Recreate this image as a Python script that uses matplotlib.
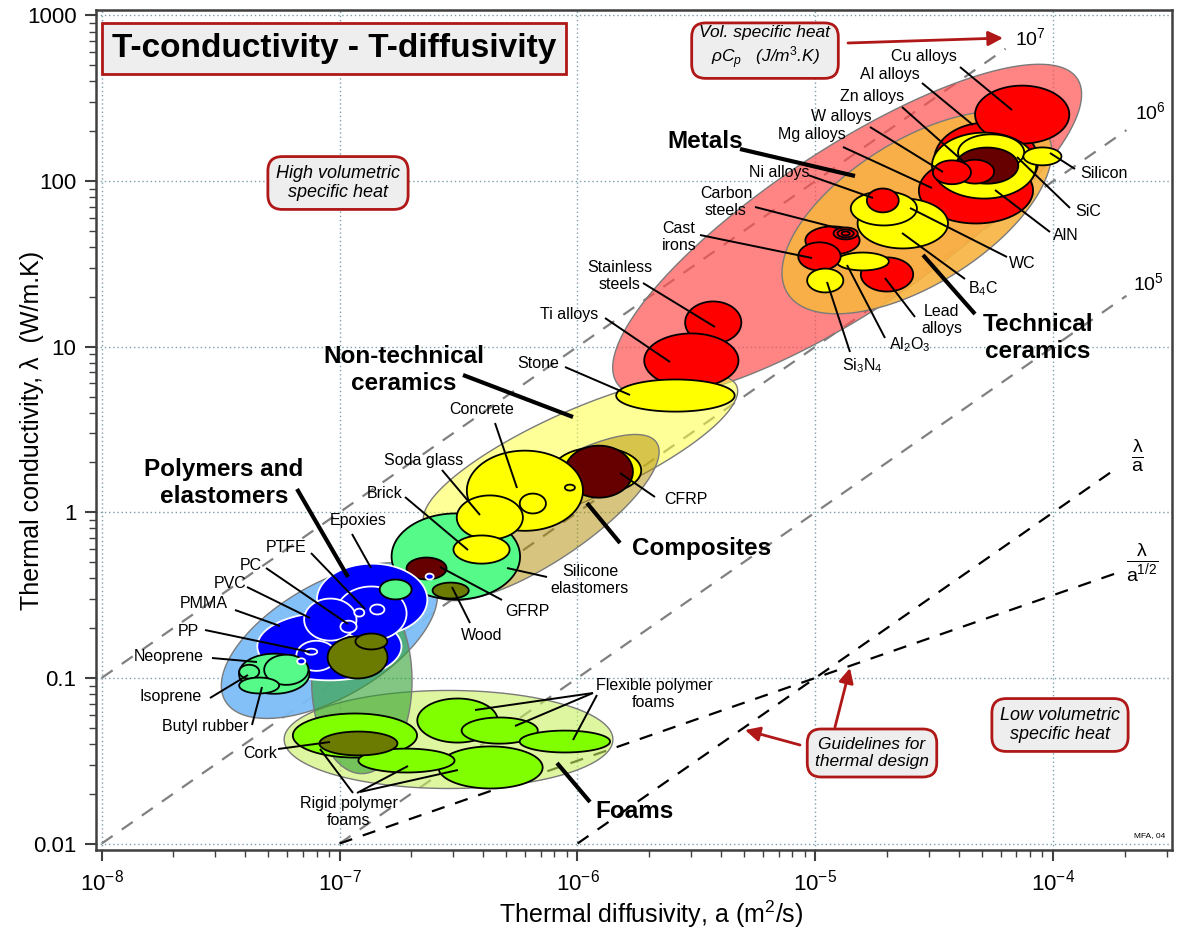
import numpy as np
import matplotlib
matplotlib.use('Agg')
import matplotlib.pyplot as plt
from matplotlib.patches import Polygon
from matplotlib.ticker import FixedLocator, FixedFormatter, LogLocator, NullFormatter

plt.rcParams['font.family'] = ['Liberation Sans', 'DejaVu Sans']
plt.rcParams['mathtext.fontset'] = 'custom'
plt.rcParams['mathtext.rm'] = 'Liberation Sans'
plt.rcParams['mathtext.it'] = 'Liberation Sans:italic'
plt.rcParams['mathtext.bf'] = 'Liberation Sans:bold'

# ---- family envelopes: centre (a, lambda), half spans in decades, tilt (deg)
env_name = ['Metals', 'Technical ceramics', 'Non-technical ceramics', 'Composites',
            'Polymers', 'Foams', 'Natural']
env_a = [1.36e-5, 2.67e-5, 1.03e-6, 7.3e-7, 9.06e-8, 2.87e-7, 1.24e-7]
env_lam = [50.0, 64.6, 2.23, 0.93, 0.168, 0.0425, 0.0964]
env_da = [1.16, 0.641, 0.717, 0.565, 0.506, 0.691, 0.211]
env_dl = [0.49, 0.435, 0.272, 0.26, 0.344, 0.296, 0.562]
env_tilt = [33.5, 32.0, 23.8, 33.9, 30.0, 0.0, 0.0]

# ---- material bubbles (drawing order)
bub_name = ['Al alloys', 'Mg alloys', 'Cu alloys', 'AlN', 'SiC', 'MMC', 'Zn alloys', 'W alloys',
            'Silicon', 'B4C', 'WC', 'Ni alloys', 'Carbon steels', 'Low alloy steels', 'Tool steels',
            'Spring steels', 'Lead alloys', 'Al2O3', 'Cast irons', 'Si3N4', 'Stainless steels',
            'Ti alloys', 'Stone',
            'Glass', 'CFRP', 'Silicone elastomers', 'Concrete', 'Glass ceramic', 'Silica',
            'Soda glass', 'Brick', 'GFRP', 'PEEK', 'Wood',
            'Polymers low', 'Epoxies', 'PTFE', 'PVC', 'PP', 'PC', 'PA', 'PS', 'PE',
            'Polyurethane', 'Leather', 'Bamboo', 'Neoprene', 'EVA', 'Isoprene', 'Butyl rubber', 'ABS',
            'Rigid foam 1', 'Flexible foam 1', 'Flexible foam 2', 'Flexible foam 3',
            'Rigid foam 3', 'Rigid foam 2', 'Cork']
bub_a = [5.22e-5, 4.73e-5, 7.40e-5, 5.12e-5, 5.48e-5, 5.27e-5, 4.69e-5, 3.75e-5,
         9.0e-5, 2.33e-5, 1.94e-5, 1.92e-5, 1.18e-5, 1.34e-5, 1.34e-5,
         1.34e-5, 2.0e-5, 1.58e-5, 1.04e-5, 1.10e-5, 3.72e-6,
         3.01e-6, 2.58e-6,
         1.21e-6, 1.23e-6, 3.08e-7, 6.01e-7, 6.49e-7, 9.29e-7,
         4.28e-7, 3.95e-7, 2.32e-7, 2.39e-7, 2.93e-7,
         9.06e-8, 1.37e-7, 1.36e-7, 9.14e-8, 7.98e-8, 1.09e-7, 1.44e-7, 1.21e-7, 7.60e-8,
         1.72e-7, 1.19e-7, 1.36e-7, 5.31e-8, 5.97e-8, 4.17e-8, 4.59e-8, 6.90e-8,
         1.16e-7, 3.13e-7, 4.71e-7, 8.85e-7,
         4.31e-7, 1.91e-7, 1.20e-7]
bub_lam = [133, 87.7, 252, 124, 149, 124, 114, 113,
           141, 55.5, 68.4, 76.4, 43.8, 48.3, 48.3,
           48.3, 27.3, 32.7, 35.1, 25.1, 14.0,
           8.26, 5.07,
           1.79, 1.76, 0.541, 1.35, 1.13, 1.41,
           0.931, 0.596, 0.458, 0.409, 0.337,
           0.155, 0.297, 0.245, 0.225, 0.136, 0.204, 0.259, 0.248, 0.144,
           0.342, 0.133, 0.166, 0.106, 0.112, 0.109, 0.090, 0.126,
           0.0449, 0.0553, 0.0481, 0.0413,
           0.0288, 0.0317, 0.0402]
bub_da = [0.219, 0.240, 0.198, 0.219, 0.139, 0.131, 0.080, 0.080,
          0.080, 0.190, 0.139, 0.067, 0.114, 0.051, 0.034,
          0.017, 0.110, 0.110, 0.089, 0.076, 0.118,
          0.198, 0.249,
          0.185, 0.143, 0.270, 0.244, 0.055, 0.021,
          0.139, 0.118, 0.084, 0.017, 0.076,
          0.303, 0.232, 0.148, 0.110, 0.084, 0.034, 0.030, 0.021, 0.025,
          0.067, 0.126, 0.067, 0.148, 0.093, 0.042, 0.084, 0.017,
          0.261, 0.169, 0.160, 0.190,
          0.219, 0.202, 0.164]
bub_dl = [0.229, 0.199, 0.175, 0.199, 0.109, 0.109, 0.072, 0.072,
          0.054, 0.151, 0.103, 0.072, 0.085, 0.036, 0.024,
          0.012, 0.103, 0.054, 0.085, 0.072, 0.127,
          0.163, 0.097,
          0.139, 0.157, 0.260, 0.242, 0.060, 0.018,
          0.133, 0.085, 0.066, 0.018, 0.048,
          0.205, 0.217, 0.163, 0.127, 0.091, 0.036, 0.030, 0.024, 0.018,
          0.060, 0.127, 0.048, 0.121, 0.091, 0.042, 0.048, 0.018,
          0.133, 0.133, 0.079, 0.066,
          0.127, 0.072, 0.072]
bub_family = ['metal', 'metal', 'metal', 'ceramic', 'ceramic', 'composite', 'metal', 'metal',
              'ceramic', 'ceramic', 'ceramic', 'metal', 'metal', 'metal', 'metal',
              'metal', 'metal', 'ceramic', 'metal', 'ceramic', 'metal',
              'metal', 'ceramic',
              'ceramic', 'composite', 'elastomer', 'ceramic', 'ceramic', 'ceramic',
              'ceramic', 'ceramic', 'composite', 'polymer', 'natural',
              'polymer', 'polymer', 'polymer', 'polymer', 'polymer', 'polymer', 'polymer', 'polymer', 'polymer',
              'elastomer', 'natural', 'natural', 'elastomer', 'elastomer', 'elastomer', 'elastomer', 'polymer',
              'foam', 'foam', 'foam', 'foam',
              'foam', 'foam', 'natural']

# ---- guidelines: lambda = rhoCp * a
rho_cp = [1e5, 1e6, 1e7]
rho_cp_a0 = [1e-7, 1e-8, 1e-8]
rho_cp_a1 = [2.03e-4, 2.03e-4, 6.3e-5]
design_a0 = [1e-6, 1e-7]
design_a1 = [1.8e-4, 1.94e-4]
design_c = [1e4, 10 ** 1.5]
design_n = [1.0, 0.5]

env_style = {
    'Metals': ('#ff5050', 0.7),
    'Technical ceramics': ('#f8b441', 0.9),
    'Non-technical ceramics': ('#ffff44', 0.55),
    'Composites': ('#b08c00', 0.5),
    'Polymers': ('#7dbdf8', 0.95),
    'Foams': ('#c8f060', 0.6),
    'Natural': ('#30a030', 0.6),
}
fam_color = {'metal': '#ff0000', 'ceramic': '#ffff00', 'composite': '#660000',
             'natural': '#6b7a00', 'elastomer': '#55fa88', 'polymer': '#0000ff',
             'foam': '#7fff00'}

fig = plt.figure(figsize=(11.8, 9.32), dpi=100)
L, R, T, B = 96, 1172, 10, 850
ax = fig.add_axes([L / 1180, (932 - B) / 932, (R - L) / 1180, (B - T) / 932])
ax.set_xscale('log')
ax.set_yscale('log')
ax.set_xlim(10 ** -8.024, 10 ** -3.501)
ax.set_ylim(10 ** -2.039, 10 ** 3.033)

xr = np.log10(ax.get_xlim()[1] / ax.get_xlim()[0])
yr = np.log10(ax.get_ylim()[1] / ax.get_ylim()[0])
kx = ((R - L) / xr) / ((B - T) / yr)


def P(px, py):
    return ((px - L) / (R - L), (B - py) / (B - T))


def ellipse(a, lam, da, dl, tilt):
    t = np.linspace(0, 2 * np.pi, 240)
    u = da * kx * np.cos(t)
    v = dl * np.sin(t)
    th = np.radians(tilt)
    du = u * np.cos(th) - v * np.sin(th)
    dv = u * np.sin(th) + v * np.cos(th)
    return np.column_stack([10 ** (np.log10(a) + du / kx), 10 ** (np.log10(lam) + dv)])


# grid
for v in [1e-8, 1e-7, 1e-6, 1e-5, 1e-4]:
    ax.axvline(v, color='#7aa0aa', lw=1, ls=(0, (1, 2)), zorder=0.5)
for v in [0.01, 0.1, 1, 10, 100, 1000]:
    ax.axhline(v, color='#7aa0aa', lw=1, ls=(0, (1, 2)), zorder=0.5)

# guidelines
for c, a0, a1 in zip(rho_cp, rho_cp_a0, rho_cp_a1):
    aa = np.array([a0, a1])
    ax.plot(aa, c * aa, color='#808080', lw=1.6, ls=(0, (6, 5)), zorder=1)
for c, n, a0, a1 in zip(design_c, design_n, design_a0, design_a1):
    aa = np.array([a0, a1])
    ax.plot(aa, c * aa ** n, color='black', lw=1.6, ls=(0, (6, 5)), zorder=1)

# envelopes
for i, name in enumerate(env_name):
    col, alp = env_style[name]
    pts = ellipse(env_a[i], env_lam[i], env_da[i], env_dl[i], env_tilt[i])
    ax.add_patch(Polygon(pts, closed=True, fc=col, alpha=alp, ec='none', zorder=2))
    ax.add_patch(Polygon(pts, closed=True, fill=False, ec='#7a7a7a', lw=1, zorder=2))

# bubbles
for i, name in enumerate(bub_name):
    fam = bub_family[i]
    ec = 'white' if fam == 'polymer' else 'black'
    ax.add_patch(Polygon(ellipse(bub_a[i], bub_lam[i], bub_da[i], bub_dl[i], 0),
                         closed=True, fc=fam_color[fam], ec=ec, lw=1.3, zorder=3))

# labels with leaders
labels = [
    ('Cu alloys', 924, 57, [(960, 67, 1012, 110)], 'n'),
    ('Al alloys', 890, 75, [(922, 83, 973, 125)], 'n'),
    ('Zn alloys', 872, 97, [(902, 107, 965, 163)], 'n'),
    ('W alloys', 841, 116, [(870, 127, 943, 172)], 'n'),
    ('Mg alloys', 812, 134, [(843, 147, 932, 188)], 'n'),
    ('Metals', 705, 142, [(740, 149, 855, 176)], 'b'),
    ('Ni alloys', 779, 173, [(808, 175, 873, 198)], 'n'),
    ('Carbon\nsteels', 726, 202, [(755, 207, 837, 228)], 'n'),
    ('Cast\nirons', 679, 237, [(700, 235, 812, 258)], 'n'),
    ('Stainless\nsteels', 620, 276, [(643, 283, 715, 327)], 'n'),
    ('Ti alloys', 569, 315, [(605, 318, 670, 362)], 'n'),
    ('Silicon', 1104, 173, [(1075, 169, 1050, 153)], 'n'),
    ('SiC', 1088, 212, [(1070, 208, 1017, 157)], 'n'),
    ('AlN', 1066, 236, [(1050, 232, 995, 190)], 'n'),
    ('WC', 1022, 264, [(1007, 257, 910, 208)], 'n'),
    ('B$_4$C', 983, 289, [(965, 279, 902, 233)], 'n'),
    ('Lead\nalloys', 942, 320, [(915, 317, 885, 278)], 'n'),
    ('Technical\nceramics', 1038, 338, [(975, 314, 923, 255)], 'b'),
    ('Al$_2$O$_3$', 910, 345, [(885, 338, 847, 265)], 'n'),
    ('Si$_3$N$_4$', 862, 366, [(850, 352, 827, 282)], 'n'),
    ('Stone', 538, 363, [(565, 367, 630, 395)], 'n'),
    ('Non-technical\nceramics', 404, 370, [(463, 375, 573, 417)], 'b'),
    ('Concrete', 482, 410, [(495, 423, 517, 488)], 'n'),
    ('Soda glass', 424, 460, [(442, 470, 480, 515)], 'n'),
    ('Brick', 385, 493, [(405, 497, 468, 550)], 'n'),
    ('CFRP', 686, 500, [(655, 497, 620, 473)], 'n'),
    ('Composites', 702, 549, [(620, 543, 587, 503)], 'b'),
    ('Silicone\nelastomers', 590, 580, [(547, 577, 507, 568)], 'n'),
    ('GFRP', 527, 611, [(502, 600, 440, 567)], 'n'),
    ('Wood', 482, 636, [(470, 623, 452, 587)], 'n'),
    ('Polymers and\nelastomers', 224, 483, [(297, 489, 348, 577)], 'b'),
    ('Epoxies', 358, 521, [(352, 534, 371, 568)], 'n'),
    ('PTFE', 286, 547, [(311, 553, 365, 609)], 'n'),
    ('PC', 251, 566, [(266, 568, 348, 624)], 'n'),
    ('PVC', 230, 584, [(247, 587, 310, 618)], 'n'),
    ('PMMA', 204, 604, [(235, 610, 280, 626)], 'n'),
    ('PP', 188, 631, [(205, 630, 310, 652)], 'n'),
    ('Neoprene', 169, 657, [(212, 658, 257, 662)], 'n'),
    ('Isoprene', 171, 697, [(210, 698, 248, 675)], 'n'),
    ('Butyl rubber', 205, 727, [(252, 725, 262, 687)], 'n'),
    ('Cork', 260, 753, [(278, 749, 330, 742)], 'n'),
    ('Rigid polymer\nfoams', 349, 812, [(353, 793, 320, 749), (357, 793, 408, 766),
                                         (360, 792, 458, 770)], 'n'),
    ('Flexible polymer\nfoams', 654, 694, [(593, 693, 475, 710), (593, 693, 515, 726),
                                            (597, 695, 573, 740)], 'n'),
    ('Foams', 635, 812, [(590, 802, 557, 763)], 'b'),
]
for txt, tx, ty, leaders, kind in labels:
    bold = kind == 'b'
    for x0, y0, x1, y1 in leaders:
        p0, p1 = P(x0, y0), P(x1, y1)
        ax.plot([p0[0], p1[0]], [p0[1], p1[1]], transform=ax.transAxes, color='black',
                lw=3 if bold else 1.4, solid_capstyle='butt', zorder=5)
    ax.text(*P(tx, ty), txt, transform=ax.transAxes, ha='center', va='center',
            multialignment='center', fontsize=17.5 if bold else 11.5,
            fontweight='bold' if bold else 'normal', zorder=6)

# guideline labels
for txt, px, py in [(r'$10^7$', 1030, 38), (r'$10^6$', 1150, 112), (r'$10^5$', 1148, 283)]:
    ax.text(*P(px, py), txt, transform=ax.transAxes, ha='center', va='center', fontsize=14,
            zorder=6)
ax.text(*P(1137, 455), r'$\frac{\mathrm{\lambda}}{\mathrm{a}}$', transform=ax.transAxes,
        ha='center', va='center', fontsize=20, zorder=6)
ax.text(*P(1142, 562), r'$\frac{\mathrm{\lambda}}{\mathrm{a}^{1/2}}$', transform=ax.transAxes,
        ha='center', va='center', fontsize=20, zorder=6)
ax.text(*P(1150, 836), 'MFA, 04', transform=ax.transAxes, ha='center', va='center',
        fontsize=6, zorder=6)

# boxes
box_ec, box_fc = '#b01818', '#eeeeee'
ax.text(*P(334, 48), 'T-conductivity - T-diffusivity', transform=ax.transAxes, ha='center',
        va='center', fontsize=24, fontweight='bold', zorder=7,
        bbox=dict(boxstyle='square,pad=0.3', fc=box_fc, ec=box_ec, lw=2))
for txt, px, py, fs in [('High volumetric\nspecific heat', 338, 183, 13),
                        ('Low volumetric\nspecific heat', 1060, 725, 13),
                        ('Guidelines for\nthermal design', 872, 753, 12.5),
                        ('Vol. specific heat\n' + r'$\rho C_p$' + '   (J/m$^3$.K)', 765, 48, 12.5)]:
    ax.text(*P(px, py), txt, transform=ax.transAxes, ha='center', va='center',
            multialignment='center', fontsize=fs, fontstyle='italic', zorder=7,
            bbox=dict(boxstyle='round,pad=0.45,rounding_size=0.8', fc=box_fc, ec=box_ec, lw=2))

for (x0, y0), (x1, y1) in [((848, 43), (1003, 38)), ((835, 727), (850, 668)),
                           ((800, 745), (745, 730))]:
    ax.annotate('', xy=P(x1, y1), xytext=P(x0, y0), xycoords='axes fraction',
                textcoords='axes fraction', zorder=7,
                arrowprops=dict(arrowstyle='-|>', color=box_ec, lw=2, mutation_scale=22,
                                shrinkA=0, shrinkB=0))

# axes styling
ax.xaxis.set_major_locator(FixedLocator([1e-8, 1e-7, 1e-6, 1e-5, 1e-4]))
ax.xaxis.set_major_formatter(FixedFormatter([r'$10^{-8}$', r'$10^{-7}$', r'$10^{-6}$',
                                             r'$10^{-5}$', r'$10^{-4}$']))
ax.yaxis.set_major_locator(FixedLocator([0.01, 0.1, 1, 10, 100, 1000]))
ax.yaxis.set_major_formatter(FixedFormatter(['0.01', '0.1', '1', '10', '100', '1000']))
for axis in (ax.xaxis, ax.yaxis):
    axis.set_minor_locator(LogLocator(base=10, subs=range(2, 10), numticks=20))
    axis.set_minor_formatter(NullFormatter())
ax.tick_params(which='major', direction='out', length=8, width=1.5, color='#404040',
               labelsize=16, pad=6)
ax.tick_params(which='minor', direction='out', length=5, width=1, color='#404040')
for s in ax.spines.values():
    s.set_color('#404040')
    s.set_linewidth(1.8)

ax.set_xlabel('Thermal diffusivity, a (m$^2$/s)', fontsize=18)
ax.xaxis.set_label_coords(0.516, -0.058)
ax.set_ylabel('Thermal conductivity, λ  (W/m.K)', fontsize=18)
ax.yaxis.set_label_coords(-0.048, 0.5)

fig.savefig('out.png', dpi=100)
